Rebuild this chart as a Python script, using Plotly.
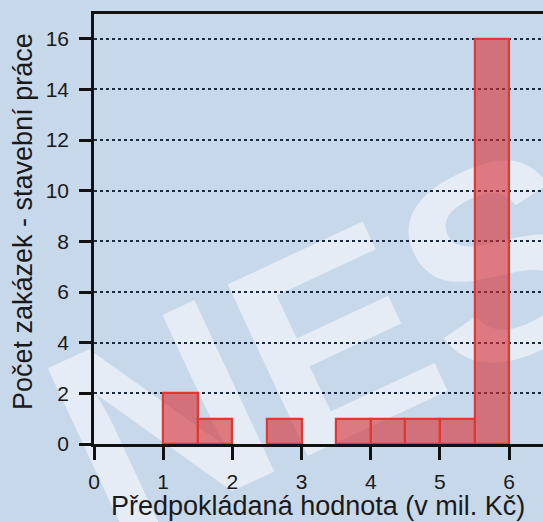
import plotly.graph_objects as go

# Data (histogram bins of width 0.5, in mil. Kč)
bin_left = [1.0, 1.5, 2.5, 3.5, 4.0, 4.5, 5.0, 5.5]
counts = [2, 1, 1, 1, 1, 1, 1, 16]
bin_width = 0.5
x_ticks = [0, 1, 2, 3, 4, 5, 6]
y_ticks = [0, 2, 4, 6, 8, 10, 12, 14, 16]
x_title = "Předpokládaná hodnota (v mil. Kč)"
y_title = "Počet zakázek - stavební práce"
watermark = "NES"

BG = "#c8d8eb"
FONT = "Liberation Sans, Arial, sans-serif"

fig = go.Figure()
fig.add_trace(go.Bar(
    x=bin_left, y=counts, width=[bin_width] * len(counts), offset=0,
    marker=dict(color="rgba(215,45,50,0.6)",
                line=dict(color="#e2382f", width=2.2)),
    showlegend=False,
))

W, H = 543, 522
L, R, T, B = 94, 0, 14, 78
pw, ph = W - L - R, H - T - B

# watermark centre in pixels -> paper coords
cx, cy = (316 - L) / pw, (444 - 318) / ph

fig.update_layout(
    width=W, height=H,
    margin=dict(l=L, r=R, t=T, b=B, pad=0),
    paper_bgcolor=BG, plot_bgcolor="rgba(0,0,0,0)",
    font=dict(family=FONT, color="#1a1a1a"),
    bargap=0,
    xaxis=dict(
        range=[0, 6.49], tickvals=x_ticks, ticktext=[str(v) for v in x_ticks],
        showgrid=False, zeroline=False,
        showline=True, linecolor="#111", linewidth=2.5, mirror=True,
        ticks="outside", ticklen=13, tickwidth=2.5, tickcolor="#111",
        tickfont=dict(size=21, family=FONT, color="#1a1a1a"),
        ticklabelstandoff=4,
    ),
    yaxis=dict(
        range=[0, 16.98], tickvals=y_ticks, ticktext=[str(v) for v in y_ticks],
        showgrid=True, gridcolor="#1c2a40", gridwidth=1.5, griddash="dot",
        zeroline=False,
        showline=True, linecolor="#111", linewidth=2.5,
        ticks="outside", ticklen=12, tickwidth=2.5, tickcolor="#111",
        tickfont=dict(size=21, family=FONT, color="#1a1a1a"),
        ticklabelstandoff=6,
    ),
    shapes=[
        dict(type="rect", xref="paper", yref="paper", layer="below",
             x0=cx - 0.05, x1=cx + 0.05, y0=cy - 0.05, y1=cy + 0.05,
             line=dict(width=0), fillcolor="rgba(0,0,0,0)",
             label=dict(text="<b>" + watermark + "</b>", textangle=-25,
                        textposition="middle center",
                        font=dict(size=275, family=FONT,
                                  color="rgba(255,255,255,0.52)"))),
    ],
    annotations=[
        dict(text=x_title, xref="paper", yref="paper",
             x=(318 - L) / pw, y=(444 - 506) / ph,
             xanchor="center", yanchor="middle", showarrow=False,
             font=dict(size=27, family=FONT, color="#1a1a1a")),
        dict(text=y_title, xref="paper", yref="paper",
             x=(23 - L) / pw, y=(444 - 222) / ph, textangle=-90,
             xanchor="center", yanchor="middle", showarrow=False,
             font=dict(size=27, family=FONT, color="#1a1a1a")),
    ],
)

fig.write_html("out.html", config={"displayModeBar": False},
               post_script="document.body.style.margin='0';document.body.style.overflow='hidden';")
